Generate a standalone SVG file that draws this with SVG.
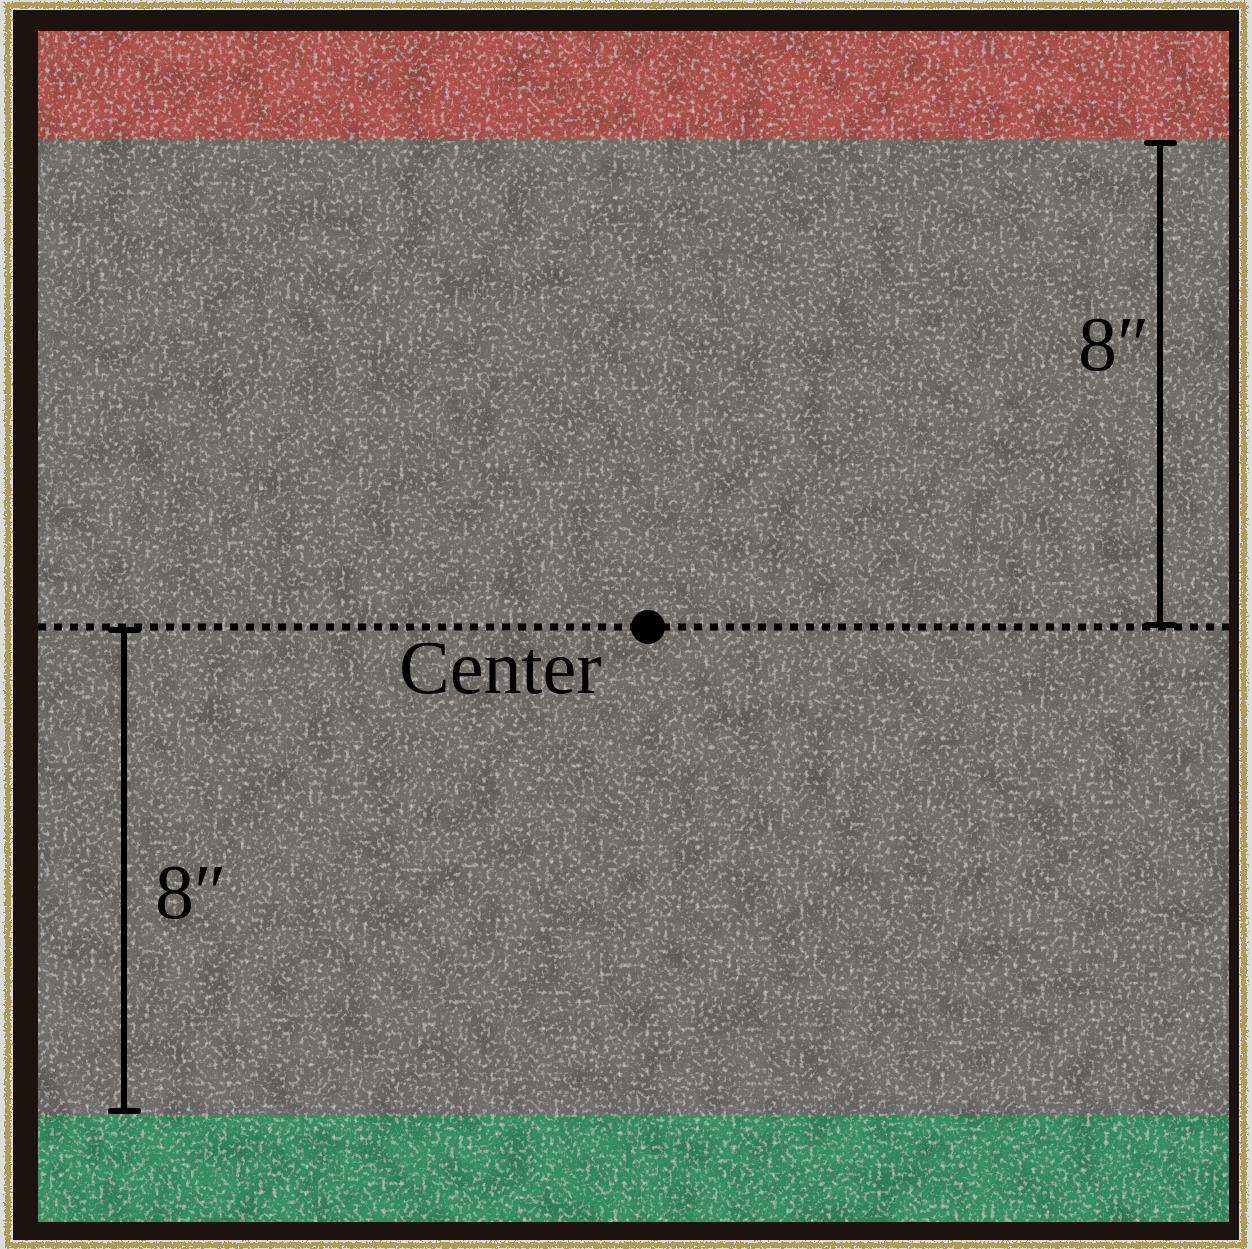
<svg xmlns="http://www.w3.org/2000/svg" width="1252" height="1249" viewBox="0 0 1252 1249">
<style>
.dim{stroke:#000;stroke-width:6;fill:none;stroke-linecap:round}
.lbl{font-family:"Liberation Serif",serif;fill:#000}
</style>
<defs>
<filter id="grain" x="0" y="0" width="100%" height="100%">
<feTurbulence type="fractalNoise" baseFrequency="0.22" numOctaves="3" seed="4" result="n"/>
<feColorMatrix in="n" type="matrix" values="0 0 0 0 1  0 0 0 0 1  0 0 0 0 1  0 0 0 1.2 -0.62" result="spec"/>
<feComposite in="spec" in2="SourceGraphic" operator="in" result="s"/>
<feTurbulence type="fractalNoise" baseFrequency="0.03" numOctaves="3" seed="9" result="m"/>
<feColorMatrix in="m" type="matrix" values="0 0 0 0 0  0 0 0 0 0  0 0 0 0 0  0 0 0 0.7 -0.28" result="dark"/>
<feComposite in="dark" in2="SourceGraphic" operator="in" result="d"/>
<feMerge><feMergeNode in="SourceGraphic"/><feMergeNode in="d"/><feMergeNode in="s"/></feMerge>
</filter>
<filter id="fray" x="-5%" y="-5%" width="110%" height="110%">
<feTurbulence type="fractalNoise" baseFrequency="0.5" numOctaves="2" seed="2" result="t"/>
<feDisplacementMap in="SourceGraphic" in2="t" scale="8" xChannelSelector="R" yChannelSelector="G"/>
</filter>
</defs>
<rect x="0" y="0" width="1252" height="1249" fill="#dcdcdc"/>
<rect x="8" y="5" width="1236" height="1240" fill="none" stroke="#b09a58" stroke-width="6" filter="url(#fray)"/>
<rect x="13" y="10" width="1226" height="1230" fill="#1c120e"/>
<g filter="url(#grain)">
<rect x="38" y="31" width="1191" height="1191" fill="#726e69"/>
<rect x="38" y="31" width="1191" height="108" fill="#ad524e"/>
<rect x="38" y="1115" width="1191" height="107" fill="#379062"/>
</g>
<g id="connectors">
<line x1="38" y1="627" x2="1229" y2="627" stroke="#000" stroke-width="7" stroke-dasharray="8 8"/>
<g id="dim-right">
<line class="dim" x1="1160" y1="143" x2="1160" y2="625"/>
<line class="dim" x1="1147" y1="143" x2="1174" y2="143"/>
<line class="dim" x1="1147" y1="625" x2="1174" y2="625"/>
</g>
<g id="dim-left">
<line class="dim" x1="124" y1="630" x2="124" y2="1111"/>
<line class="dim" x1="111" y1="630" x2="138" y2="630"/>
<line class="dim" x1="111" y1="1111" x2="138" y2="1111"/>
</g>
</g>
<g id="center">
<circle cx="648" cy="627" r="17" fill="#000"/>
<text class="lbl" x="399" y="693" font-size="76">Center</text>
</g>
<text class="lbl" x="1078" y="370" font-size="78">8″</text>
<text class="lbl" x="155" y="918" font-size="78">8″</text>
</svg>
